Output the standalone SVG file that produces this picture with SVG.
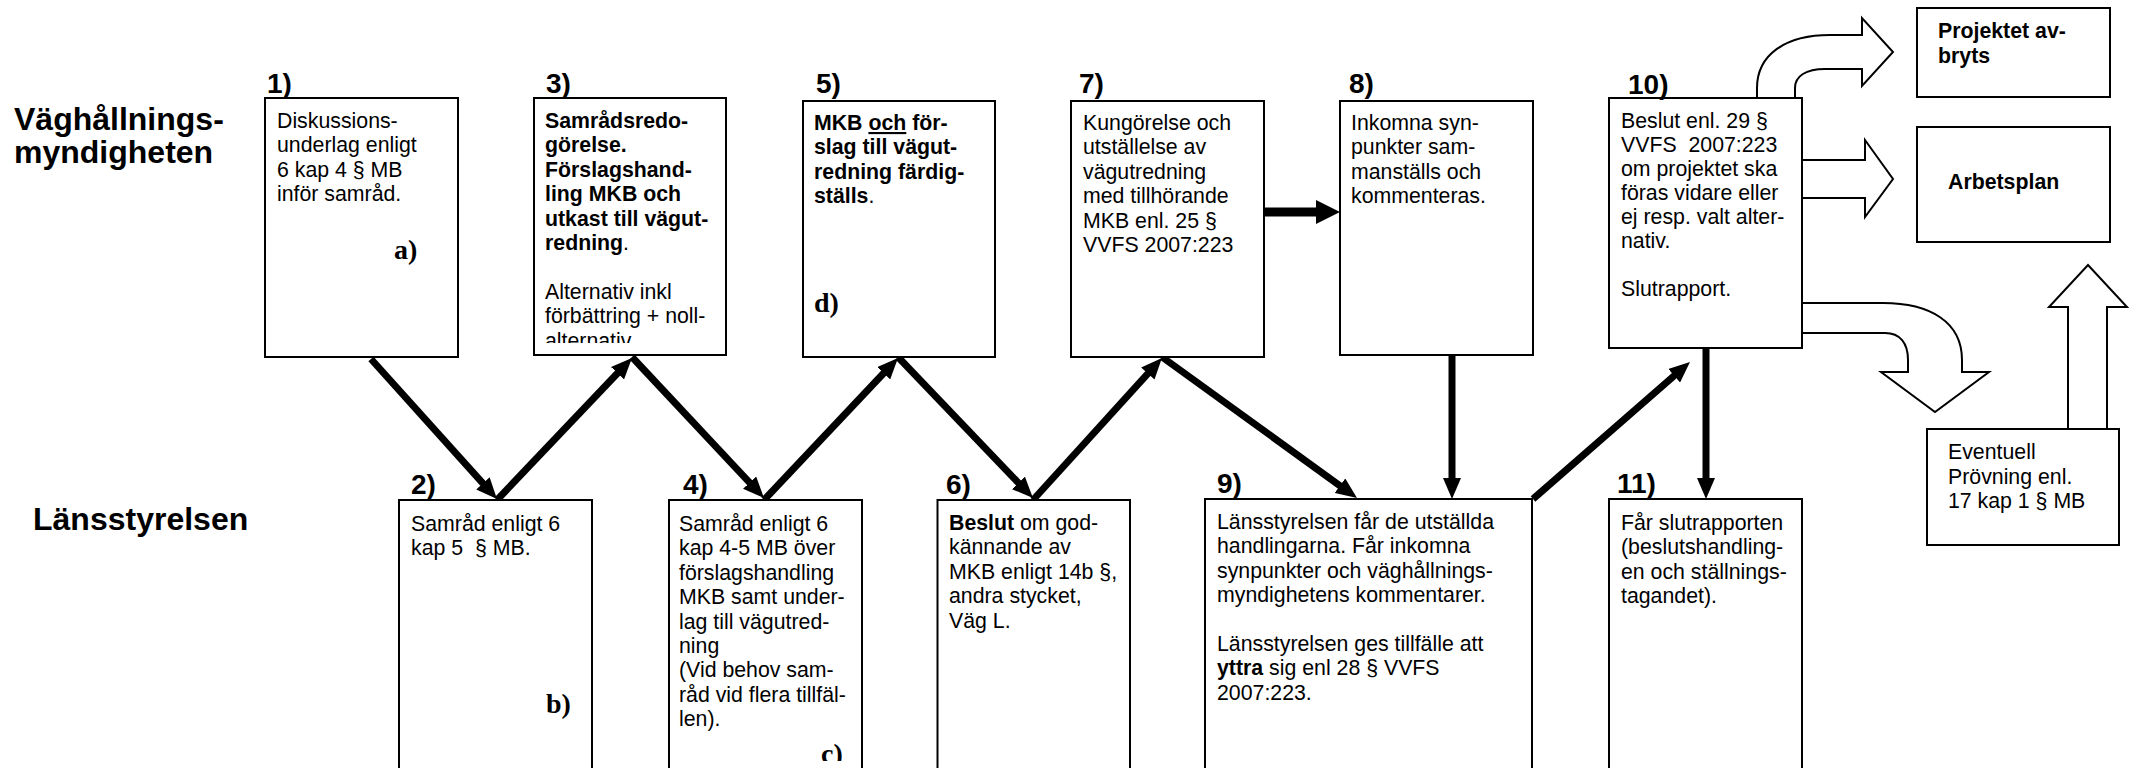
<svg xmlns="http://www.w3.org/2000/svg" width="2132" height="768" viewBox="0 0 2132 768">
<style>
.box{fill:#fff;stroke:#000;stroke-width:2}
.blk{fill:#fff;stroke:#000;stroke-width:2;stroke-linejoin:miter}
.t{font-family:"Liberation Sans",Arial,sans-serif;font-size:21.3px;fill:#000;white-space:pre}
.b{font-weight:bold}
.num{font-family:"Liberation Sans",Arial,sans-serif;font-size:28px;font-weight:bold;fill:#000}
.lane{font-family:"Liberation Sans",Arial,sans-serif;font-size:32px;font-weight:bold;fill:#000}
.let{font-family:"Liberation Serif","Times New Roman",serif;font-size:28px;font-weight:bold;fill:#000}
.ar{stroke:#000;stroke-width:7;fill:none}
</style>
<defs>
<marker id="ah" markerUnits="userSpaceOnUse" viewBox="0 0 21 18" markerWidth="21" markerHeight="18" refX="1" refY="9" orient="auto">
<path d="M0,0 L21,9 L0,18 Z" fill="#000"/>
</marker>
<marker id="ahb" markerUnits="userSpaceOnUse" viewBox="0 0 24 24" markerWidth="24" markerHeight="24" refX="1" refY="12" orient="auto">
<path d="M0,0 L24,12 L0,24 Z" fill="#000"/>
</marker>
<clipPath id="c3"><rect x="534" y="98" width="192" height="245"/></clipPath>
<clipPath id="c4"><rect x="669" y="500" width="193" height="261"/></clipPath>
</defs>

<g id="lanes">
<text class="lane" x="14" y="130">Väghållnings-</text>
<text class="lane" x="14" y="163">myndigheten</text>
<text class="lane" x="33" y="530">Länsstyrelsen</text>
</g>

<g id="blockarrows">
<path class="blk" d="M1757,100 L1757,88 C1757,55 1785,35 1830,35 L1862,35 L1862,18 L1893,52 L1862,86 L1862,69 L1825,69 C1806,69 1795,76 1795,88 L1795,100"/>
<path class="blk" d="M1800,160 L1865,160 L1865,140 L1893,179 L1865,217 L1865,198 L1800,198"/>
<path class="blk" d="M1800,303 L1883,303 C1930,303 1962,322 1962,360 L1962,372 L1989,372 L1935,412 L1881,372 L1908,372 L1908,360 C1908,343 1900,333 1885,333 L1800,333"/>
<path class="blk" d="M2068,431 L2068,307 L2049,307 L2088,265 L2127,307 L2107,307 L2107,431"/>
</g>

<g id="connectors">
<line class="ar" x1="371" y1="359" x2="483.6" y2="484.1" marker-end="url(#ah)"/>
<line class="ar" x1="497" y1="500" x2="618.2" y2="372.5" marker-end="url(#ah)"/>
<line class="ar" x1="632" y1="357" x2="750.3" y2="483.4" marker-end="url(#ah)"/>
<line class="ar" x1="764" y1="500" x2="884.3" y2="372.5" marker-end="url(#ah)"/>
<line class="ar" x1="898" y1="357" x2="1019.1" y2="483.6" marker-end="url(#ah)"/>
<line class="ar" x1="1033" y1="500" x2="1148.5" y2="372.8" marker-end="url(#ah)"/>
<line class="ar" x1="1162" y1="357" x2="1340.8" y2="486.3" marker-end="url(#ah)"/>
<line class="ar" x1="1452" y1="355" x2="1452" y2="479" marker-end="url(#ah)"/>
<line class="ar" x1="1533" y1="499" x2="1674.9" y2="375.1" marker-end="url(#ah)"/>
<line class="ar" x1="1706" y1="348" x2="1706" y2="479" marker-end="url(#ah)"/>
<line class="ar" style="stroke-width:9" x1="1264" y1="212" x2="1317" y2="212" marker-end="url(#ahb)"/>
</g>

<g id="n1">
<rect class="box" x="265" y="98" width="193" height="259"/>
<text class="num" x="267" y="93">1)</text>
<text class="t" x="277" y="128">Diskussions-</text>
<text class="t" x="277" y="152.4">underlag enligt</text>
<text class="t" x="277" y="176.8">6 kap 4 § MB</text>
<text class="t" x="277" y="201.2">inför samråd.</text>
<text class="let" x="394" y="259">a)</text>
</g>

<g id="n3">
<rect class="box" x="534" y="98" width="192" height="257"/>
<text class="num" x="546" y="93">3)</text>
<g clip-path="url(#c3)">
<text class="t b" x="545" y="128">Samrådsredo-</text>
<text class="t b" x="545" y="152.4">görelse.</text>
<text class="t b" x="545" y="176.8">Förslagshand-</text>
<text class="t b" x="545" y="201.2">ling MKB och</text>
<text class="t b" x="545" y="225.6">utkast till vägut-</text>
<text class="t" x="545" y="250"><tspan class="b">redning</tspan>.</text>
<text class="t" x="545" y="298.8">Alternativ inkl</text>
<text class="t" x="545" y="323.2">förbättring + noll-</text>
<text class="t" x="545" y="347.6">alternativ</text>
</g>
</g>

<g id="n5">
<rect class="box" x="803" y="101" width="192" height="256"/>
<text class="num" x="816" y="93">5)</text>
<text class="t b" x="814" y="130">MKB <tspan text-decoration="underline">och</tspan> för-</text>
<text class="t b" x="814" y="154.4">slag till vägut-</text>
<text class="t b" x="814" y="178.8">redning färdig-</text>
<text class="t" x="814" y="203.2"><tspan class="b">ställs</tspan>.</text>
<text class="let" x="814" y="312">d)</text>
</g>

<g id="n7">
<rect class="box" x="1071" y="101" width="193" height="256"/>
<text class="num" x="1079" y="93">7)</text>
<text class="t" x="1083" y="130">Kungörelse och</text>
<text class="t" x="1083" y="154.4">utställelse av</text>
<text class="t" x="1083" y="178.8">vägutredning</text>
<text class="t" x="1083" y="203.2">med tillhörande</text>
<text class="t" x="1083" y="227.6">MKB enl. 25 §</text>
<text class="t" x="1083" y="252">VVFS 2007:223</text>
</g>

<g id="n8">
<rect class="box" x="1340" y="101" width="193" height="254"/>
<text class="num" x="1349" y="93">8)</text>
<text class="t" x="1351" y="130">Inkomna syn-</text>
<text class="t" x="1351" y="154.4">punkter sam-</text>
<text class="t" x="1351" y="178.8">manställs och</text>
<text class="t" x="1351" y="203.2">kommenteras.</text>
</g>

<g id="n10">
<rect class="box" x="1609" y="98" width="193" height="250"/>
<text class="num" x="1628" y="94">10)</text>
<text class="t" x="1621" y="128">Beslut enl. 29 §</text>
<text class="t" x="1621" y="152">VVFS  2007:223</text>
<text class="t" x="1621" y="176">om projektet ska</text>
<text class="t" x="1621" y="200">föras vidare eller</text>
<text class="t" x="1621" y="224">ej resp. valt alter-</text>
<text class="t" x="1621" y="248">nativ.</text>
<text class="t" x="1621" y="296">Slutrapport.</text>
</g>

<g id="projektet">
<rect class="box" x="1917" y="8" width="193" height="89"/>
<text class="t b" x="1938" y="38">Projektet av-</text>
<text class="t b" x="1938" y="63">bryts</text>
</g>

<g id="arbetsplan">
<rect class="box" x="1917" y="127" width="193" height="115"/>
<text class="t b" x="1948" y="189">Arbetsplan</text>
</g>

<g id="eventuell">
<rect class="box" x="1927" y="429" width="192" height="116"/>
<text class="t" x="1948" y="459">Eventuell</text>
<text class="t" x="1948" y="484">Prövning enl.</text>
<text class="t" x="1948" y="508">17 kap 1 § MB</text>
</g>

<g id="n2">
<rect class="box" x="399" y="500" width="193" height="280"/>
<text class="num" x="411" y="494">2)</text>
<text class="t" x="411" y="531">Samråd enligt 6</text>
<text class="t" x="411" y="555.4">kap 5  § MB.</text>
<text class="let" x="546" y="713">b)</text>
</g>

<g id="n4">
<rect class="box" x="669" y="500" width="193" height="280"/>
<text class="num" x="683" y="494">4)</text>
<text class="t" x="679" y="531">Samråd enligt 6</text>
<text class="t" x="679" y="555.4">kap 4-5 MB över</text>
<text class="t" x="679" y="579.8">förslagshandling</text>
<text class="t" x="679" y="604.2">MKB samt under-</text>
<text class="t" x="679" y="628.6">lag till vägutred-</text>
<text class="t" x="679" y="653">ning</text>
<text class="t" x="679" y="677.4">(Vid behov sam-</text>
<text class="t" x="679" y="701.8">råd vid flera tillfäl-</text>
<text class="t" x="679" y="726.2">len).</text>
<text class="let" x="821" y="763" clip-path="url(#c4)">c)</text>
</g>

<g id="n6">
<rect class="box" x="937.5" y="500" width="192.5" height="280"/>
<text class="num" x="946" y="494">6)</text>
<text class="t" x="949" y="530"><tspan class="b">Beslut</tspan> om god-</text>
<text class="t" x="949" y="554.4">kännande av</text>
<text class="t" x="949" y="578.8">MKB enligt 14b §,</text>
<text class="t" x="949" y="603.2">andra stycket,</text>
<text class="t" x="949" y="627.6">Väg L.</text>
</g>

<g id="n9">
<rect class="box" x="1205" y="499" width="327" height="280"/>
<text class="num" x="1217" y="493">9)</text>
<text class="t" x="1217" y="529">Länsstyrelsen får de utställda</text>
<text class="t" x="1217" y="553.4">handlingarna. Får inkomna</text>
<text class="t" x="1217" y="577.8">synpunkter och väghållnings-</text>
<text class="t" x="1217" y="602.2">myndighetens kommentarer.</text>
<text class="t" x="1217" y="651">Länsstyrelsen ges tillfälle att</text>
<text class="t" x="1217" y="675.4"><tspan class="b">yttra</tspan> sig enl 28 § VVFS</text>
<text class="t" x="1217" y="699.8">2007:223.</text>
</g>

<g id="n11">
<rect class="box" x="1609" y="499" width="193" height="280"/>
<text class="num" x="1617" y="493">11)</text>
<text class="t" x="1621" y="530">Får slutrapporten</text>
<text class="t" x="1621" y="554.4">(beslutshandling-</text>
<text class="t" x="1621" y="578.8">en och ställnings-</text>
<text class="t" x="1621" y="603.2">tagandet).</text>
</g>
</svg>
